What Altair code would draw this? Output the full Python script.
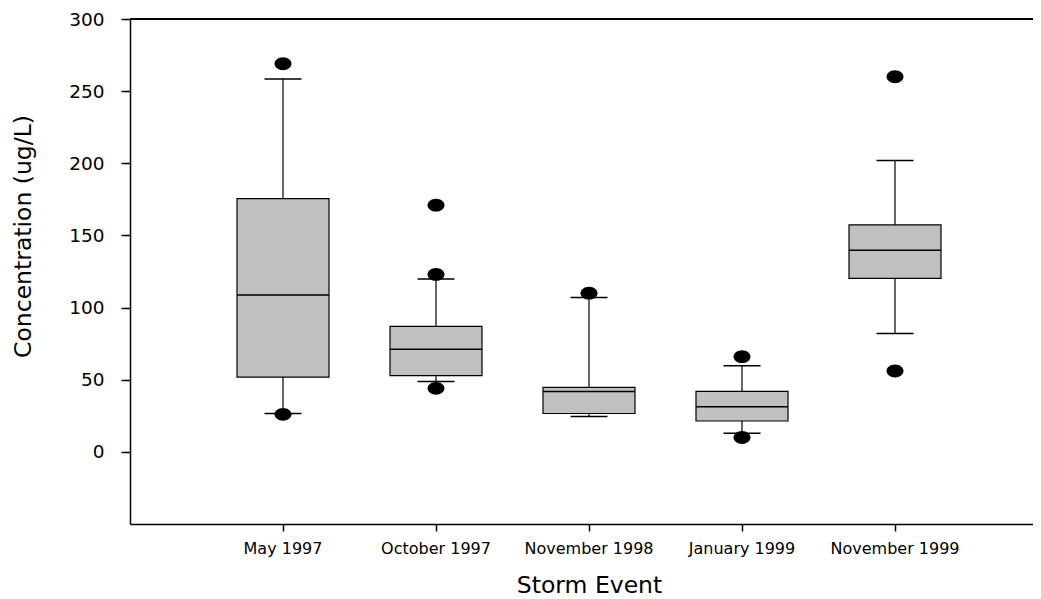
import altair as alt
import pandas as pd

# Box-plot statistics (ug/L)
events = ["May 1997", "October 1997", "November 1998", "January 1999", "November 1999"]
whisker_low = [26.5, 48.8, 24.5, 12.9, 82.0]
q1 = [51.8, 52.8, 26.6, 21.4, 120.2]
median = [108.7, 71.2, 41.9, 31.3, 139.8]
q3 = [175.5, 86.9, 44.7, 41.9, 157.3]
whisker_high = [258.5, 119.8, 106.9, 59.6, 202.0]

outlier_events = ["May 1997", "May 1997", "October 1997", "October 1997", "October 1997",
                  "November 1998", "January 1999", "January 1999", "November 1999", "November 1999"]
outlier_values = [269, 26, 171, 123, 44, 110, 66, 10, 260, 56]

y_ticks = [0, 50, 100, 150, 200, 250, 300]

stats = pd.DataFrame({
    "event": events, "wlo": whisker_low, "q1": q1, "med": median,
    "q3": q3, "whi": whisker_high,
})
outs = pd.DataFrame({"event": outlier_events, "value": outlier_values})

FONT = "DejaVu Sans"

x_enc = alt.X(
    "event:N", sort=events,
    scale=alt.Scale(domain=events, range=[0, 918], paddingInner=0, paddingOuter=0.5),
    axis=alt.Axis(
        title="Storm Event", labelAngle=0, tickSize=7, tickWidth=1.5, domainWidth=1.5,
        domainColor="black", tickColor="black", labelColor="black", titleColor="black",
        labelFont=FONT, titleFont=FONT,
        labelFontSize=16, labelBaseline="alphabetic", labelPadding=22,
        titleFontSize=23.5, titleFontWeight="normal", titleBaseline="alphabetic",
        titleX=459, titleY=68,
    ),
)
y_scale = alt.Scale(domain=[-50, 300], nice=False, zero=False)
y_axis = alt.Axis(
    title="Concentration (ug/L)", values=y_ticks, tickSize=9, tickWidth=1.5,
    domainWidth=1.5, domainColor="black", tickColor="black",
    labelColor="black", titleColor="black", labelFont=FONT, titleFont=FONT,
    labelFontSize=18.5, labelPadding=17,
    titleFontSize=23.5, titleFontWeight="normal", titleBaseline="alphabetic",
    titleAngle=270, titleX=-100, titleY=217,
)

base = alt.Chart(stats)

lower_whisker = base.mark_rule(color="black", strokeWidth=1.2).encode(
    x=x_enc, y=alt.Y("wlo:Q", scale=y_scale, axis=y_axis), y2="q1:Q")
upper_whisker = base.mark_rule(color="black", strokeWidth=1.2).encode(
    x=x_enc, y=alt.Y("q3:Q", scale=y_scale), y2="whi:Q")
cap_low = base.mark_tick(color="black", size=37, thickness=1.5, opacity=1).encode(
    x=x_enc, y=alt.Y("wlo:Q", scale=y_scale))
cap_high = base.mark_tick(color="black", size=37, thickness=1.5, opacity=1).encode(
    x=x_enc, y=alt.Y("whi:Q", scale=y_scale))
box = base.mark_bar(size=92, fill="#c0c0c0", stroke="black", strokeWidth=1.2, opacity=1).encode(
    x=x_enc, y=alt.Y("q1:Q", scale=y_scale), y2="q3:Q")
med = base.mark_tick(color="black", size=92, thickness=1.5, opacity=1).encode(
    x=x_enc, y=alt.Y("med:Q", scale=y_scale))

ellipse = "M-1,0A1,0.76,0,1,1,1,0A1,0.76,0,1,1,-1,0Z"
points = alt.Chart(outs).mark_point(
    shape=ellipse, size=289, filled=True, color="black", opacity=1, strokeWidth=0
).encode(x=x_enc, y=alt.Y("value:Q", scale=y_scale))

top_line = alt.Chart(stats).mark_rule(color="black", strokeWidth=1.5).encode(
    y=alt.datum(300, scale=y_scale))

chart = alt.layer(
    top_line, lower_whisker, upper_whisker, cap_low, cap_high, box, med, points
).properties(
    width=903, height=505,
    autosize=alt.AutoSizeParams(type="none"),
    padding={"left": 122, "top": 11, "right": 0, "bottom": 75},
).configure_view(stroke=None).configure_axis(
    grid=False, domainColor="black", tickColor="black", labelColor="black",
    titleColor="black", labelFont=FONT, titleFont=FONT,
).configure(background="white", font=FONT)

chart.save("out.html", embed_options={"renderer": "svg", "actions": False})
